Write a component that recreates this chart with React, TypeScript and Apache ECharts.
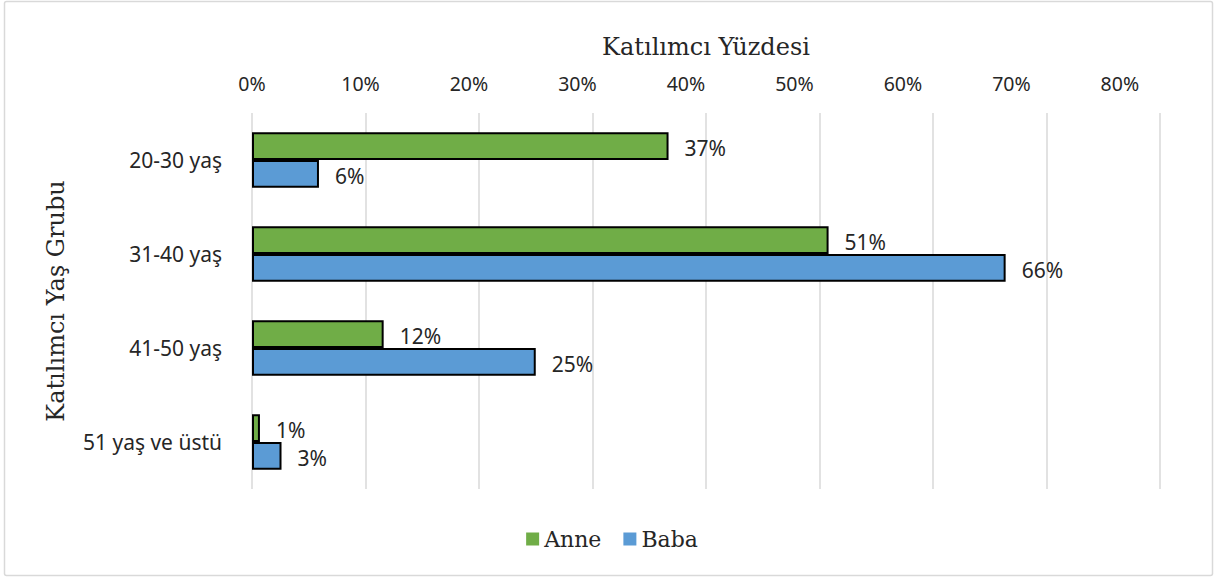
import React, { useEffect, useRef } from "react";
import * as echarts from "echarts";

const categories = ["20-30 yaş", "31-40 yaş", "41-50 yaş", "51 yaş ve üstü"];
const anneValues = [36.7, 50.8, 11.6, 0.7];
const babaValues = [5.9, 66.4, 25.0, 2.6];
const seriesNames = ["Anne", "Baba"];
const xAxisTitle = "Katılımcı Yüzdesi";
const yAxisTitle = "Katılımcı Yaş Grubu";

const SANS = "'Noto Sans', 'Open Sans', sans-serif";
const SERIF = "'DejaVu Serif', serif";

export default function App() {
  const ref = useRef<HTMLDivElement>(null);
  useEffect(() => {
    if (!ref.current) return;
    const chart = echarts.init(ref.current, undefined, { renderer: "svg" });
    const labelCfg = {
      show: true,
      position: "right" as const,
      distance: 16,
      offset: [0, 2],
      fontFamily: SANS,
      fontSize: 21,
      color: "#262626",
      formatter: (p: any) => Math.round(p.value) + "%",
    };
    chart.setOption({
      animation: false,
      backgroundColor: "#ffffff",
      graphic: [
        {
          type: "rect",
          shape: { x: 4.5, y: 1.5, width: 1208, height: 574, r: 2 },
          style: { fill: "none", stroke: "#d9d9d9", lineWidth: 1.5 },
          silent: true,
        },
      ],
      grid: { left: 252, right: 64, top: 113, bottom: 88, containLabel: false },
      legend: {
        bottom: 22,
        left: "center",
        itemWidth: 13,
        itemHeight: 13,
        itemGap: 22,
        icon: "rect",
        itemStyle: { borderWidth: 0 },
        textStyle: { fontFamily: SERIF, fontSize: 22, color: "#262626" },
        data: seriesNames,
      },
      xAxis: [
        {
          type: "value",
          position: "top",
          min: 0,
          max: 80,
          interval: 10,
          name: xAxisTitle,
          nameLocation: "middle",
          nameGap: 54,
          nameTextStyle: { fontFamily: SERIF, fontSize: 24, color: "#262626" },
          axisLine: { show: false },
          axisTick: { show: false },
          axisLabel: { show: false },
          splitLine: { show: true, lineStyle: { color: "#d9d9d9", width: 1.5 } },
        },
        {
          type: "value",
          position: "top",
          min: 0,
          max: 83.7,
          interval: 10,
          axisLine: { show: false },
          axisTick: { show: false },
          splitLine: { show: false },
          axisLabel: {
            show: true,
            margin: 20,
            fontFamily: SANS,
            fontSize: 19.5,
            color: "#262626",
            formatter: (v: number) => (Math.abs(v % 10) < 1e-6 ? v + "%" : ""),
          },
        },
      ],
      yAxis: {
        type: "category",
        inverse: true,
        data: categories,
        name: yAxisTitle,
        nameLocation: "middle",
        nameRotate: 90,
        nameGap: 184,
        nameTextStyle: { fontFamily: SERIF, fontSize: 24, color: "#262626" },
        axisLine: { show: false },
        axisTick: { show: false },
        axisLabel: {
          margin: 30,
          fontFamily: SANS,
          fontSize: 21,
          color: "#262626",
        },
        splitLine: { show: false },
      },
      series: [
        {
          name: seriesNames[0],
          type: "bar",
          xAxisIndex: 0,
          data: anneValues,
          barGap: "0%",
          barCategoryGap: "41%",
          itemStyle: { color: "#70AD47", borderColor: "#000000", borderWidth: 2 },
          label: labelCfg,
        },
        {
          name: seriesNames[1],
          type: "bar",
          xAxisIndex: 0,
          data: babaValues,
          barGap: "0%",
          barCategoryGap: "41%",
          itemStyle: { color: "#5B9BD5", borderColor: "#000000", borderWidth: 2 },
          label: labelCfg,
        },
      ],
    });
    return () => chart.dispose();
  }, []);
  return (
    <div
      ref={ref}
      style={{ position: "fixed", left: 0, top: 0, width: 1224, height: 577 }}
    />
  );
}
